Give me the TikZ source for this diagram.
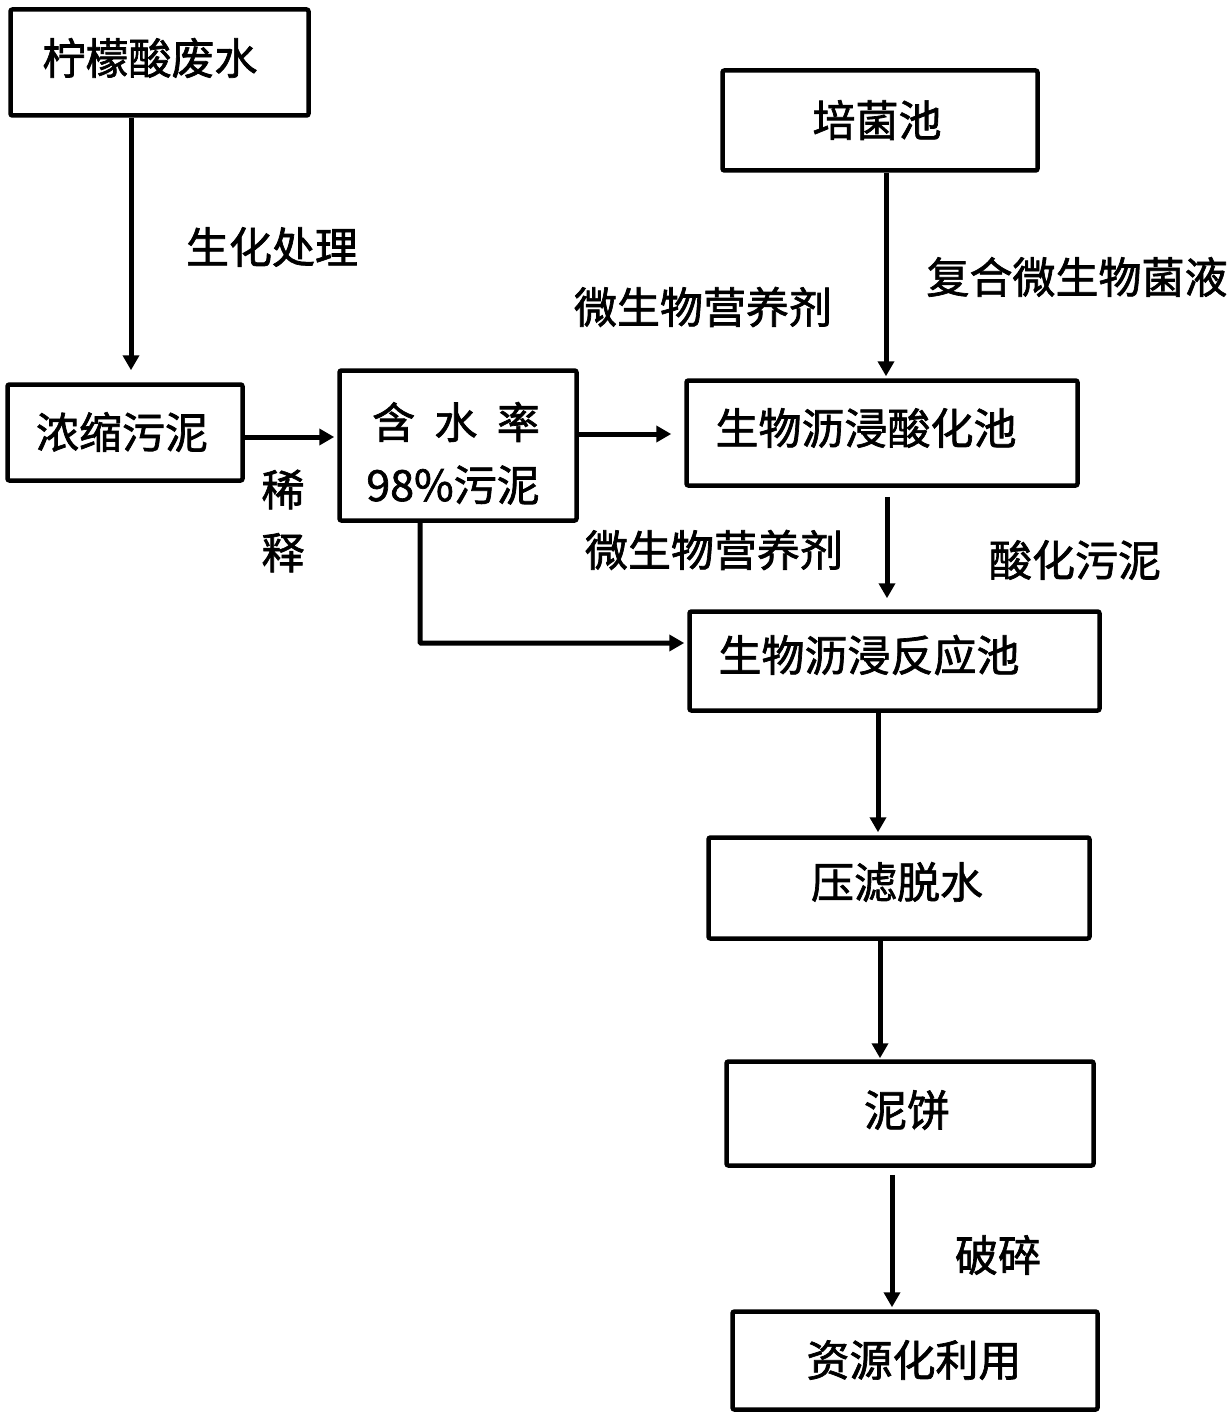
\documentclass[tikz,border=0pt]{standalone}
\usepackage{fontspec}
\setmainfont{Noto Sans CJK SC}[BoldFont={Noto Sans CJK SC}, BoldFeatures={FakeBold=1.6}]
\usetikzlibrary{arrows.meta}
\begin{document}
\begin{tikzpicture}[x=1pt,y=-1pt,
 box/.style={draw, line width=4.5pt, rounded corners=2pt, inner sep=0pt},
 txt/.style={font=\fontsize{43}{63}\selectfont\bfseries, inner sep=0pt},
 arr/.style={line width=5pt, -{Triangle[width=16pt,length=15pt]}}]
\useasboundingbox[fill=white] (0,0) rectangle (1229,1420);
% boxes
\node[box, minimum width=298, minimum height=106] (A) at (159.5,62.5) {};
\node[box, minimum width=235, minimum height=96] (B) at (125,432.5) {};
\node[box, minimum width=237, minimum height=150] (C) at (458,445.5) {};
\node[box, minimum width=315, minimum height=100] (D) at (880,120.5) {};
\node[box, minimum width=391, minimum height=105] (E) at (882,433) {};
\node[box, minimum width=410, minimum height=99] (F) at (894.5,661) {};
\node[box, minimum width=381, minimum height=101] (G) at (899,888) {};
\node[box, minimum width=367, minimum height=104] (H) at (910,1113.5) {};
\node[box, minimum width=365, minimum height=98] (I) at (915,1360.5) {};
% box texts
\node[txt] (At) at (150,58) {柠檬酸废水};
\node[txt] (Bt) at (122,432) {浓缩污泥};
\node[txt] (Ct1) at (456,422) {含\hspace{0.45em}水\hspace{0.45em}率};
\node[txt] (Ct2) at (453,485) {98\%污泥};
\node[txt] (Dt) at (877,120) {培菌池};
\node[txt] (Et) at (866,428) {生物沥浸酸化池};
\node[txt] (Ft) at (869,655) {生物沥浸反应池};
\node[txt] (Gt) at (897,882) {压滤脱水};
\node[txt] (Ht) at (907,1110) {泥饼};
\node[txt] (It) at (914,1360) {资源化利用};
% connector labels
\node[txt] (L1) at (272,247) {生化处理};
\node[txt, align=center] (L2) at (283,521) {稀\\释};
\node[txt] (L3) at (1077,277) {复合微生物菌液};
\node[txt] (L4) at (703,307) {微生物营养剂};
\node[txt] (L5) at (714,550) {微生物营养剂};
\node[txt] (L6) at (1075,560) {酸化污泥};
\node[txt] (L7) at (998,1255) {破碎};
% connectors
\draw[arr, shorten >=12pt] ([xshift=-28.5pt]A.south) -- ([xshift=-28.5pt]A.south |- B.north);
\draw[arr, shorten >=3pt] ([yshift=-4.5pt]B.east) -- ([yshift=-4.5pt]B.east -| C.west);
\draw[arr, shorten >=13pt] ([yshift=11.5pt]C.east) -- ([yshift=11.5pt]C.east -| E.west);
\draw[arr, shorten >=2pt] ([xshift=6pt]D.south) -- ([xshift=6pt]D.south |- E.north);
\draw[arr, shorten <=9pt, shorten >=11pt] ([xshift=5pt]E.south) -- ([xshift=5pt]E.south |- F.north);
\draw[arr, shorten >=3pt, rounded corners=1pt] ([xshift=-38pt]C.south) |- ([yshift=18pt]F.west);
\draw[arr, shorten >=3pt] ([xshift=-16.5pt]F.south) -- ([xshift=-16.5pt]F.south |- G.north);
\draw[arr, shorten >=1pt] ([xshift=-19pt]G.south) -- ([xshift=-19pt]G.south |- H.north);
\draw[arr, shorten <=7pt, shorten >=2pt] ([xshift=-18pt]H.south) -- ([xshift=-18pt]H.south |- I.north);
\end{tikzpicture}
\end{document}
